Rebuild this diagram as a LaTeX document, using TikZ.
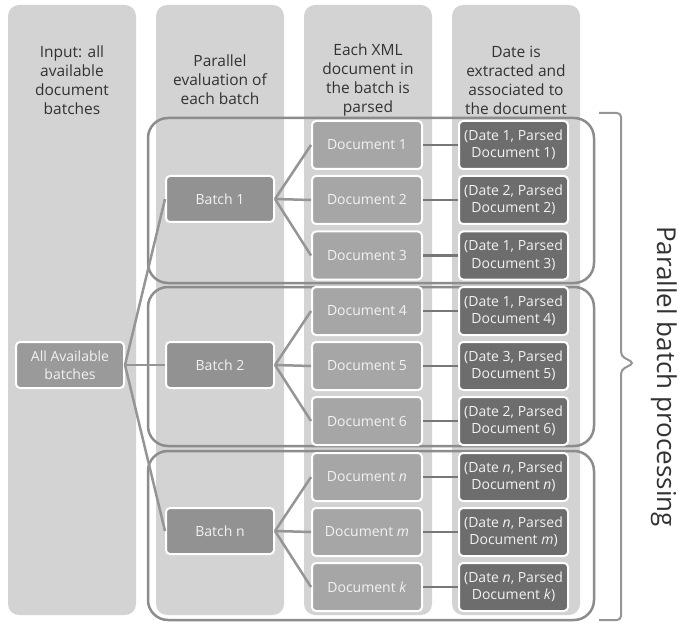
\documentclass[tikz,border=0pt]{standalone}
\usepackage{fontspec}
\setmainfont{Open Sans}
\usepackage{xcolor}
\usepackage{tikz}
\definecolor{colbg}{HTML}{D3D3D3}
\definecolor{framegray}{HTML}{8C8C8C}
\definecolor{linkgray}{HTML}{959595}
\definecolor{allfill}{HTML}{9A9A9A}
\definecolor{batchfill}{HTML}{929292}
\definecolor{docfill}{HTML}{A6A6A6}
\definecolor{resfill}{HTML}{6D6D6D}
\definecolor{headtext}{HTML}{323232}

\begin{document}
\begin{tikzpicture}[x=1pt,y=-1pt]
	\tikzstyle{column}=[fill=colbg,rounded corners=11pt]
	\tikzstyle{group}=[draw=framegray,line width=2.5pt,rounded corners=20pt]
	\tikzstyle{head}=[text=headtext,align=center,font=\fontsize{15.5}{19}\selectfont]
	\tikzstyle{box}=[draw=white,line width=2pt,rounded corners=4pt,text=white!95!black,align=center,inner sep=0pt,font=\fontsize{14}{17.5}\selectfont]
	\tikzstyle{batch}=[box,fill=batchfill,minimum width=108pt,minimum height=46pt]
	\tikzstyle{doc}=[box,fill=docfill,minimum width=110pt,minimum height=48pt]
	\tikzstyle{result}=[box,fill=resfill,minimum width=109pt,minimum height=48pt]
	\tikzstyle{link}=[draw=linkgray,line width=2.5pt]
	\useasboundingbox (0,0) rectangle (678,623);
	\fill[column] (8,5) rectangle (136,615);
	\fill[column] (156,5) rectangle (284,615);
	\fill[column] (304,5) rectangle (432,615);
	\fill[column] (452,5) rectangle (580,615);
	\node[head](h1) at (72,80) {Input: all\\available\\document\\batches};
	\node[head](h2) at (220,80) {Parallel\\evaluation of\\each batch};
	\node[head](h3) at (368,80) {Each XML\\document in\\the batch is\\parsed};
	\node[head](h4) at (516,80) {Date is\\extracted and\\associated to\\the document};
	\draw[group] (148,118) rectangle (594,283);
	\draw[group] (148,287) rectangle (594,446);
	\draw[group] (148,451) rectangle (594,620);
	\node[batch,fill=allfill](all) at (70,365) {All Available\\batches};
	\node[batch](b1) at (220,199) {Batch 1};
	\node[batch](b2) at (220,365) {Batch 2};
	\node[batch](b3) at (220,531) {Batch n};
	\node[doc](d1) at (367,145) {Document 1};
	\node[doc](d2) at (367,200) {Document 2};
	\node[doc](d3) at (367,255.5) {Document 3};
	\node[doc](d4) at (367,311) {Document 4};
	\node[doc](d5) at (367,366) {Document 5};
	\node[doc](d6) at (367,421) {Document 6};
	\node[doc](d7) at (367,477) {Document \textit{n}};
	\node[doc](d8) at (367,532) {Document \textit{m}};
	\node[doc](d9) at (367,587) {Document \textit{k}};
	\node[result](r1) at (513.5,145) {(Date 1, Parsed\\Document 1)};
	\node[result](r2) at (513.5,200) {(Date 2, Parsed\\Document 2)};
	\node[result](r3) at (513.5,255.5) {(Date 1, Parsed\\Document 3)};
	\node[result](r4) at (513.5,311) {(Date 1, Parsed\\Document 4)};
	\node[result](r5) at (513.5,366) {(Date 3, Parsed\\Document 5)};
	\node[result](r6) at (513.5,421) {(Date 2, Parsed\\Document 6)};
	\node[result](r7) at (513.5,477) {(Date \textit{n}, Parsed\\Document \textit{n})};
	\node[result](r8) at (513.5,532) {(Date \textit{n}, Parsed\\Document \textit{m})};
	\node[result](r9) at (513.5,587) {(Date \textit{n}, Parsed\\Document \textit{k})};
	\draw[link] (all.east) -- (b1.west);
	\draw[link] (all.east) -- (b2.west);
	\draw[link] (all.east) -- (b3.west);
	\draw[link] (b1.east) -- (d1.west);
	\draw[link] (b1.east) -- (d2.west);
	\draw[link] (b1.east) -- (d3.west);
	\draw[link] (b2.east) -- (d4.west);
	\draw[link] (b2.east) -- (d5.west);
	\draw[link] (b2.east) -- (d6.west);
	\draw[link] (b3.east) -- (d7.west);
	\draw[link] (b3.east) -- (d8.west);
	\draw[link] (b3.east) -- (d9.west);
	\draw[link,draw=framegray!85!black] (d1.east) -- (r1.west);
	\draw[link,draw=framegray!85!black] (d2.east) -- (r2.west);
	\draw[link,draw=framegray!85!black] (d3.east) -- (r3.west);
	\draw[link,draw=framegray!85!black] (d4.east) -- (r4.west);
	\draw[link,draw=framegray!85!black] (d5.east) -- (r5.west);
	\draw[link,draw=framegray!85!black] (d6.east) -- (r6.west);
	\draw[link,draw=framegray!85!black] (d7.east) -- (r7.west);
	\draw[link,draw=framegray!85!black] (d8.east) -- (r8.west);
	\draw[link,draw=framegray!85!black] (d9.east) -- (r9.west);
	\draw[draw=linkgray,line width=2pt,rounded corners=4pt] (599,113) -- (621,113) -- (621,356) -- (634,363) -- (621,370) -- (621,620) -- (599,620);
	\node[rotate=-90,anchor=base,text=headtext,font=\fontsize{26}{30}\selectfont](label) at (657,376.5) {Parallel batch processing};
\end{tikzpicture}
\end{document}
